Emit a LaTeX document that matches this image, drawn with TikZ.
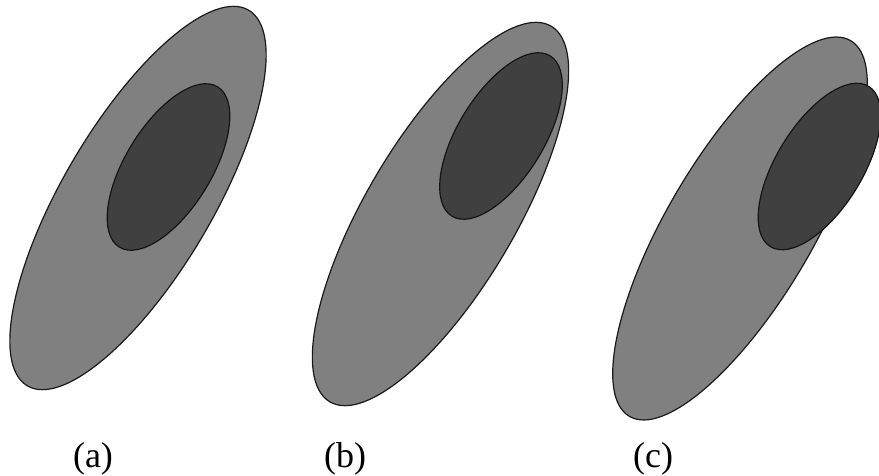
\documentclass[tikz,border=0pt]{standalone}
\usepackage{fontspec}
\setmainfont{Liberation Serif}
\begin{document}
\begin{tikzpicture}[x=1pt,y=1pt,
  outer/.style={fill={rgb,255:red,128;green,128;blue,128},draw={rgb,255:red,25;green,25;blue,25},line width=1.2pt},
  inner/.style={fill={rgb,255:red,64;green,64;blue,64},draw={rgb,255:red,20;green,20;blue,20},line width=1.2pt},
  lbl/.style={font=\fontsize{36}{42}\selectfont,anchor=base,inner sep=0pt}]
\useasboundingbox (0,0) rectangle (879,475);
\begin{scope}
\clip (0,0) rectangle (879,475);
% (a)
\draw[outer,rotate around={59.5:(138,277)}] (138,277) ellipse (218 and 75);
\draw[inner,rotate around={58.5:(168.5,308)}] (168.5,308) ellipse (94 and 43);
% (b)
\draw[outer,rotate around={59.5:(440.5,261)}] (440.5,261) ellipse (218 and 75);
\draw[inner,rotate around={58.5:(501,339)}] (501,339) ellipse (94 and 43);
% (c)
\draw[outer,rotate around={59.5:(740,246.5)}] (740,246.5) ellipse (218 and 73);
\draw[inner,rotate around={58.5:(819.5,308.5)}] (819.5,308.5) ellipse (94 and 43);
\end{scope}
\node[lbl] (la) at (93,8) {(a)};
\node[lbl] (lb) at (345,8) {(b)};
\node[lbl] (lc) at (653,8) {(c)};
\end{tikzpicture}
\end{document}
